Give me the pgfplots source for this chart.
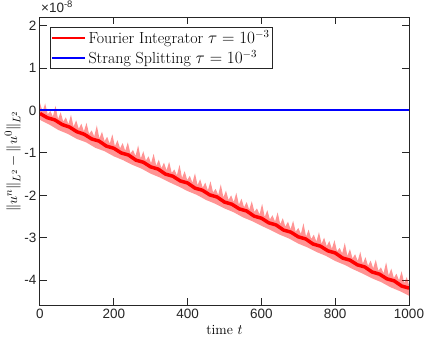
\documentclass[border=0pt]{standalone}
\usepackage{fontspec}
\usepackage{pgfplots}
\pgfplotsset{compat=1.18}
\newfontfamily\arial{Liberation Sans}
\definecolor{axgray}{RGB}{38,38,38}

\begin{document}
\begin{tikzpicture}
\useasboundingbox (-40bp,-37.3bp) rectangle (384bp,305.5bp);
\begin{axis}[
  scale only axis,
  width=369bp, height=288.2bp,
  xmin=0, xmax=1000, ymin=-4.6, ymax=2.2,
  xtick={0,200,400,600,800,1000},
  xticklabels={0,200,400,600,800,1000},
  ytick={-4,-3,-2,-1,0,1,2},
  yticklabels={-4,-3,-2,-1,0,1,2},
  ticklabel style={font=\arial\fontsize{13.5bp}{16bp}\selectfont, text=axgray},
  tick align=inside, major tick length=7bp,
  axis line style={axgray, line width=1bp},
  tick style={axgray, line width=1bp},
  xlabel={time $t$},
  ylabel={$\|u^n\|_{L^2}-\|u^0\|_{L^2}$},
  xlabel style={font=\fontsize{14bp}{17bp}\selectfont},
  ylabel style={font=\fontsize{15bp}{18bp}\selectfont, yshift=-3bp},
  legend style={at={(rel axis cs:0.027,0.967)}, anchor=north west,
    draw=axgray, line width=1bp, font=\fontsize{16bp}{19bp}\selectfont,
    inner sep=1bp, row sep=1.5bp},
  legend cell align=left,
  legend image code/.code={\draw[#1] (0bp,0bp) -- (33bp,0bp);},
]
% light band of the oscillating red curve
\addplot[draw=none, fill=red, fill opacity=0.42, forget plot] coordinates {
(0,0.18) (7,-0.03) (14,0.17) (21,-0.09) (28,-0.01) (35,-0.14) (42,0.11) (49,-0.20)
(56,-0.04) (63,-0.26) (70,-0.16) (77,-0.32) (84,-0.10) (91,-0.38) (98,-0.23) (105,-0.43)
(112,-0.31) (119,-0.49) (126,-0.29) (133,-0.55) (140,-0.47) (147,-0.61) (154,-0.35) (161,-0.66)
(168,-0.50) (175,-0.72) (182,-0.62) (189,-0.78) (196,-0.56) (203,-0.84) (210,-0.70) (217,-0.89)
(224,-0.77) (231,-0.95) (238,-0.75) (245,-1.01) (252,-0.93) (259,-1.07) (266,-0.82) (273,-1.13)
(280,-0.96) (287,-1.18) (294,-1.08) (301,-1.24) (308,-1.02) (315,-1.30) (322,-1.16) (329,-1.36)
(336,-1.23) (343,-1.41) (350,-1.21) (357,-1.47) (364,-1.39) (371,-1.53) (378,-1.28) (385,-1.59)
(392,-1.43) (399,-1.64) (406,-1.54) (413,-1.70) (420,-1.48) (427,-1.76) (434,-1.62) (441,-1.82)
(448,-1.70) (455,-1.88) (462,-1.67) (469,-1.93) (476,-1.85) (483,-1.99) (490,-1.74) (497,-2.05)
(504,-1.89) (511,-2.11) (518,-2.00) (525,-2.16) (532,-1.94) (539,-2.22) (546,-2.08) (553,-2.28)
(560,-2.16) (567,-2.34) (574,-2.14) (581,-2.39) (588,-2.31) (595,-2.45) (602,-2.20) (609,-2.51)
(616,-2.35) (623,-2.57) (630,-2.47) (637,-2.62) (644,-2.40) (651,-2.68) (658,-2.54) (665,-2.74)
(672,-2.62) (679,-2.80) (686,-2.60) (693,-2.86) (700,-2.77) (707,-2.91) (714,-2.66) (721,-2.97)
(728,-2.81) (735,-3.03) (742,-2.93) (749,-3.09) (756,-2.87) (763,-3.14) (770,-3.00) (777,-3.20)
(784,-3.08) (791,-3.26) (798,-3.06) (805,-3.32) (812,-3.24) (819,-3.37) (826,-3.12) (833,-3.43)
(840,-3.27) (847,-3.49) (854,-3.39) (861,-3.55) (868,-3.33) (875,-3.61) (882,-3.46) (889,-3.66)
(896,-3.54) (903,-3.72) (910,-3.52) (917,-3.78) (924,-3.70) (931,-3.84) (938,-3.58) (945,-3.89)
(952,-3.73) (959,-3.95) (966,-3.85) (973,-4.01) (980,-3.79) (987,-4.07) (994,-3.93) (1000,-4.12)
(1000,-4.37) (975,-4.26) (950,-4.17) (925,-4.05) (900,-3.96) (875,-3.85) (850,-3.75) (825,-3.64)
(800,-3.55) (775,-3.43) (750,-3.34) (725,-3.23) (700,-3.14) (675,-3.02) (650,-2.93) (625,-2.82)
(600,-2.72) (575,-2.61) (550,-2.52) (525,-2.40) (500,-2.31) (475,-2.20) (450,-2.11) (425,-1.99)
(400,-1.90) (375,-1.79) (350,-1.69) (325,-1.58) (300,-1.49) (275,-1.37) (250,-1.28) (225,-1.17)
(200,-1.08) (175,-0.96) (150,-0.88) (125,-0.75) (100,-0.67) (75,-0.55) (50,-0.46) (25,-0.33)
(0,-0.22)
};
% dark core of the red curve
\addplot[red, line width=3.5bp, forget plot] coordinates {
(0,-0.07) (20,-0.17) (40,-0.22) (60,-0.33) (80,-0.39) (100,-0.50) (120,-0.56) (140,-0.67)
(160,-0.72) (180,-0.84) (200,-0.89) (220,-1.00) (240,-1.05) (260,-1.17) (280,-1.22) (300,-1.33)
(320,-1.38) (340,-1.50) (360,-1.55) (380,-1.66) (400,-1.71) (420,-1.83) (440,-1.88) (460,-1.99)
(480,-2.04) (500,-2.16) (520,-2.21) (540,-2.32) (560,-2.37) (580,-2.49) (600,-2.54) (620,-2.65)
(640,-2.70) (660,-2.82) (680,-2.87) (700,-2.98) (720,-3.03) (740,-3.15) (760,-3.20) (780,-3.31)
(800,-3.36) (820,-3.48) (840,-3.53) (860,-3.64) (880,-3.69) (900,-3.81) (920,-3.86) (940,-3.97)
(960,-4.02) (980,-4.14) (1000,-4.19)
};
\addlegendimage{red, line width=1.8bp}
\addlegendentry{Fourier Integrator $\tau=10^{-3}$}
\addplot[blue, line width=2.05bp] coordinates {(0,0.01) (1000,0.01)};
\addlegendentry{Strang Splitting $\tau=10^{-3}$}
\end{axis}
\node[anchor=south west, inner sep=0pt, text=axgray,
  font=\arial\fontsize{13.5bp}{16bp}\selectfont]
  at ([xshift=1bp, yshift=4bp]current axis.north west) {×10\textsuperscript{-8}};
\end{tikzpicture}
\end{document}
